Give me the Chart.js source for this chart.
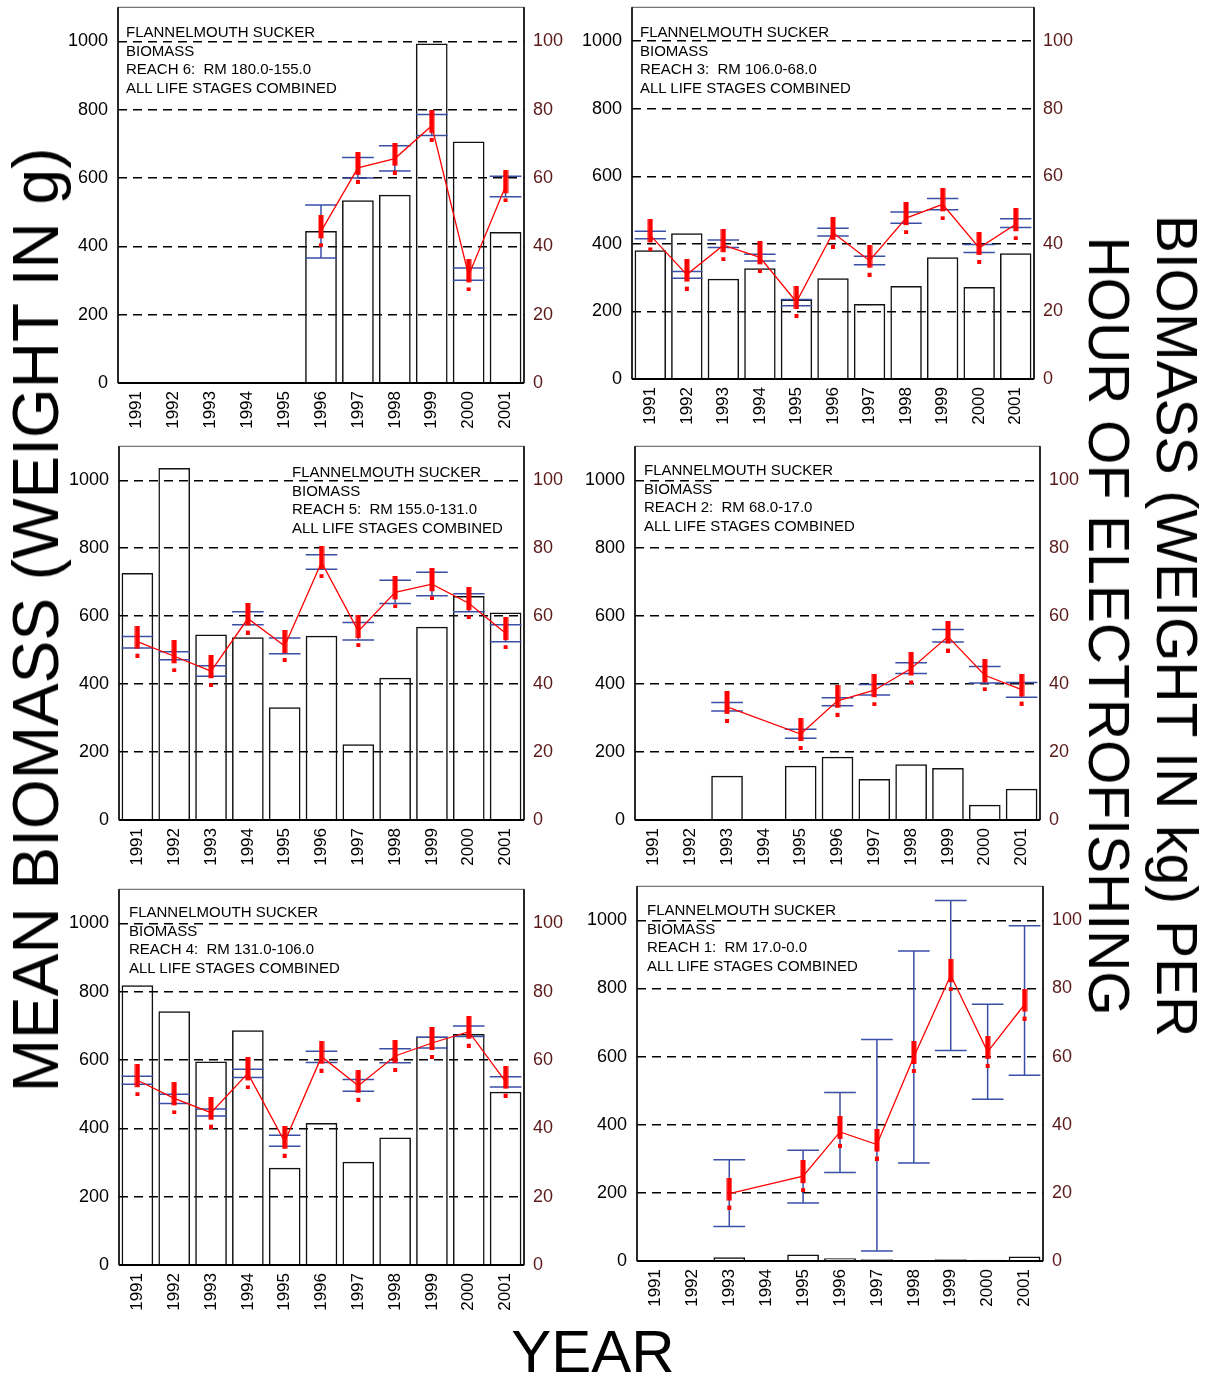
<!DOCTYPE html>
<html>
<head>
<meta charset="utf-8">
<script src="https://cdn.jsdelivr.net/npm/chart.js@4.4.1/dist/chart.umd.min.js"></script>
<style>
  body { margin: 0; background: #fff; }
  #page { position: relative; width: 1209px; height: 1379px; overflow: hidden; font-family: "Liberation Sans", Arial, sans-serif; }
  #page canvas { position: absolute; }
  .note { position: absolute; font-size: 15px; line-height: 18.7px; white-space: pre; color: #000; z-index: 2; }
  .big { position: absolute; white-space: nowrap; color: #000; z-index: 2; transform: translate(-50%, -50%) rotate(-90deg); }
</style>
</head>
<body>
<div id="page">
  <div class="big" style="left:36px; top:620px; font-size:64px; line-height:64px;">MEAN BIOMASS (WEIGHT IN g)</div>
  <div class="big" style="left:1143px; top:626px; font-size:57px; line-height:68px; text-align:center; transform: translate(-50%, -50%) rotate(90deg);">BIOMASS (WEIGHT IN kg) PER<br>HOUR OF ELECTROFISHING</div>
  <div class="big" style="left:593px; top:1352px; font-size:60px; line-height:60px; transform: translate(-50%, -50%);">YEAR</div>
</div>
<script>
// Years on the x axis
const years = ['1991', '1992', '1993', '1994', '1995', '1996', '1997', '1998', '1999', '2000', '2001'];

// Reach 6: mean biomass (g) bars, kg per hour of electrofishing with +/- range
const bars6 = [null, null, null, null, null, 445, 535, 551, 994, 707, 442];
const cpue6 = [null, null, null, null, null, 44.4, 63.0, 65.7, 75.3, 31.5, 57.6];
const hi6 = [null, null, null, null, null, 52.1, 66.0, 69.5, 78.6, 33.7, 60.5];
const lo6 = [null, null, null, null, null, 36.6, 60.0, 62.1, 72.5, 30.1, 54.5];

// Reach 3
const bars3 = [381, 431, 297, 328, 235, 298, 222, 275, 360, 272, 372];
const cpue3 = [42.5, 30.9, 39.6, 36.0, 22.8, 43.3, 35.0, 47.6, 51.7, 38.8, 45.8];
const hi3 = [43.7, 31.8, 41.1, 36.9, 23.5, 44.6, 36.3, 49.4, 53.4, 39.8, 47.4];
const lo3 = [41.5, 29.8, 38.9, 34.9, 21.7, 42.3, 33.8, 46.1, 50.1, 37.4, 44.8];

// Reach 5
const bars5 = [727, 1036, 546, 538, 332, 542, 223, 419, 569, 659, 611];
const cpue5 = [52.5, 48.2, 43.8, 59.3, 51.2, 75.9, 55.6, 67.0, 69.4, 63.8, 55.0];
const hi5 = [54.0, 49.5, 45.4, 61.3, 53.6, 78.1, 58.1, 70.6, 72.9, 66.6, 57.5];
const lo5 = [50.6, 47.2, 42.3, 57.5, 48.9, 73.8, 53.0, 63.7, 66.0, 61.3, 52.5];

// Reach 2
const bars2 = [null, null, 130, null, 160, 186, 121, 164, 153, 45, 92];
const cpue2 = [null, null, 33.3, null, 25.3, 35.1, 38.2, 44.6, 54.0, 42.6, 38.4];
const hi2 = [null, null, 34.6, null, 26.7, 36.0, 39.9, 46.3, 56.1, 45.2, 40.5];
const lo2 = [null, null, 32.1, null, 24.1, 33.6, 36.8, 43.1, 52.4, 40.3, 36.1];

// Reach 4
const bars4 = [819, 743, 596, 687, 285, 416, 302, 373, 669, 676, 507];
const cpue4 = [54.1, 48.8, 44.6, 56.1, 36.1, 61.0, 52.5, 61.2, 65.0, 68.3, 53.7];
const hi4 = [55.3, 50.0, 45.7, 57.3, 38.0, 62.6, 54.3, 63.3, 66.7, 70.0, 55.1];
const lo4 = [52.9, 47.3, 43.6, 54.9, 34.8, 59.3, 50.9, 59.2, 63.5, 66.9, 52.1];

// Reach 1
const bars1 = [null, null, 11, null, 19, 8, 5, 2, 5, 4, 13];
const cpue1 = [null, null, 19.8, null, 24.9, 37.9, 34.2, 59.9, 83.9, 61.4, 75.3];
const hi1 = [null, null, 29.7, null, 32.5, 49.5, 65.0, 91.0, 105.8, 75.4, 98.4];
const lo1 = [null, null, 10.1, null, 17.0, 26.0, 2.9, 28.8, 61.8, 47.5, 54.5];

// Left axis (g) and right axis (kg/hr) ticks
const gTicks = [0, 200, 400, 600, 800, 1000];
const kgTicks = [0, 20, 40, 60, 80, 100];

// Panel notes
const notes6 = ['FLANNELMOUTH SUCKER', 'BIOMASS', 'REACH 6:  RM 180.0-155.0', 'ALL LIFE STAGES COMBINED'];
const notes3 = ['FLANNELMOUTH SUCKER', 'BIOMASS', 'REACH 3:  RM 106.0-68.0', 'ALL LIFE STAGES COMBINED'];
const notes5 = ['FLANNELMOUTH SUCKER', 'BIOMASS', 'REACH 5:  RM 155.0-131.0', 'ALL LIFE STAGES COMBINED'];
const notes2 = ['FLANNELMOUTH SUCKER', 'BIOMASS', 'REACH 2:  RM 68.0-17.0', 'ALL LIFE STAGES COMBINED'];
const notes4 = ['FLANNELMOUTH SUCKER', 'BIOMASS', 'REACH 4:  RM 131.0-106.0', 'ALL LIFE STAGES COMBINED'];
const notes1 = ['FLANNELMOUTH SUCKER', 'BIOMASS', 'REACH 1:  RM 17.0-0.0', 'ALL LIFE STAGES COMBINED'];

// layout: plot box of each panel (l, r, t, b) and where its note sits
const panels = [
  { l: 118, r: 524, t: 7, b: 383, nx: 126, ny: 23, bars: bars6, cpue: cpue6, hi: hi6, lo: lo6, notes: notes6 },
  { l: 632, r: 1034, t: 7, b: 379, nx: 640, ny: 23, bars: bars3, cpue: cpue3, hi: hi3, lo: lo3, notes: notes3 },
  { l: 119, r: 524, t: 446, b: 820, nx: 292, ny: 463, bars: bars5, cpue: cpue5, hi: hi5, lo: lo5, notes: notes5 },
  { l: 635, r: 1040, t: 446, b: 820, nx: 644, ny: 461, bars: bars2, cpue: cpue2, hi: hi2, lo: lo2, notes: notes2 },
  { l: 119, r: 524, t: 889, b: 1265, nx: 129, ny: 903, bars: bars4, cpue: cpue4, hi: hi4, lo: lo4, notes: notes4 },
  { l: 637, r: 1043, t: 886, b: 1261, nx: 647, ny: 901, bars: bars1, cpue: cpue1, hi: hi1, lo: lo1, notes: notes1 }
];

const FONT = '"Liberation Sans", Arial, sans-serif';
const LEFT_W = 70, RIGHT_W = 45, PAD_TOP = 5, X_H = 60;
const BAR_PCT = 0.86;
const page = document.getElementById('page');

// red "!" marker used for the kg/hr points
const bang = document.createElement('canvas');
bang.width = 6;
bang.height = 32;
const bctx = bang.getContext('2d');
bctx.fillStyle = '#ff0000';
bctx.fillRect(0.5, 0, 5, 23);
bctx.fillRect(1, 28, 4, 4);

// fixed axis sizes, no extra padding for labels
function fixSize(w, h) {
  return s => {
    if (w != null) s.width = w;
    if (h != null) s.height = h;
    s.paddingTop = 0;
    s.paddingBottom = 0;
    s.paddingLeft = 0;
    s.paddingRight = 0;
  };
}

// plot frame + thick x axis
const frame = {
  id: 'frame',
  beforeDatasetsDraw(chart) {
    const { ctx, chartArea: a } = chart;
    ctx.save();
    ctx.strokeStyle = '#555';
    ctx.lineWidth = 1;
    ctx.strokeRect(a.left, a.top, a.right - a.left, a.bottom - a.top);
    ctx.strokeStyle = '#000';
    ctx.lineWidth = 1.5;
    ctx.beginPath();
    ctx.moveTo(a.left, a.top);
    ctx.lineTo(a.left, a.bottom);
    ctx.moveTo(a.right, a.top);
    ctx.lineTo(a.right, a.bottom);
    ctx.stroke();
    ctx.lineWidth = 2;
    ctx.beginPath();
    ctx.moveTo(a.left, a.bottom);
    ctx.lineTo(a.right, a.bottom);
    ctx.stroke();
    ctx.restore();
  }
};

// blue error bars, drawn after the bars and before the red line
const errorBars = {
  id: 'errorBars',
  afterDatasetDraw(chart, args) {
    if (args.index !== 0) return;
    const ds = chart.data.datasets[1];
    const x = chart.scales.x, y1 = chart.scales.y1;
    const half = x.width / years.length * BAR_PCT / 2;
    const ctx = chart.ctx;
    ctx.save();
    ctx.strokeStyle = '#3a4fa6';
    ctx.lineWidth = 1.5;
    ds.hi.forEach((hi, i) => {
      if (hi == null) return;
      const cx = x.getPixelForValue(i);
      const yh = y1.getPixelForValue(hi);
      const yl = y1.getPixelForValue(ds.lo[i]);
      ctx.beginPath();
      ctx.moveTo(cx, yh); ctx.lineTo(cx, yl);
      ctx.moveTo(cx - half, yh); ctx.lineTo(cx + half, yh);
      ctx.moveTo(cx - half, yl); ctx.lineTo(cx + half, yl);
      ctx.stroke();
    });
    ctx.restore();
  }
};

panels.forEach(p => {
  const cv = document.createElement('canvas');
  cv.width = (p.r - p.l) + LEFT_W + RIGHT_W;
  cv.height = (p.b - p.t) + PAD_TOP + X_H;
  cv.style.left = (p.l - LEFT_W) + 'px';
  cv.style.top = (p.t - PAD_TOP) + 'px';
  page.appendChild(cv);

  const note = document.createElement('div');
  note.className = 'note';
  note.style.left = p.nx + 'px';
  note.style.top = p.ny + 'px';
  note.textContent = p.notes.join('\n');
  page.appendChild(note);

  new Chart(cv, {
    type: 'bar',
    data: {
      labels: years,
      datasets: [
        {
          type: 'bar', data: p.bars, yAxisID: 'y', order: 2,
          backgroundColor: 'rgba(0,0,0,0)', borderColor: '#111', borderWidth: 1.5,
          categoryPercentage: 1, barPercentage: BAR_PCT
        },
        {
          type: 'line', data: p.cpue, yAxisID: 'y1', order: 1, hi: p.hi, lo: p.lo,
          borderColor: '#ff0000', borderWidth: 1.3, spanGaps: true,
          pointStyle: bang, pointRadius: 3, tension: 0
        }
      ]
    },
    options: {
      responsive: false,
      maintainAspectRatio: false,
      devicePixelRatio: 1,
      animation: false,
      events: [],
      layout: { padding: { top: PAD_TOP, left: 0, right: 0, bottom: 0 } },
      plugins: { legend: { display: false }, tooltip: { enabled: false } },
      scales: {
        x: {
          offset: true,
          grid: { display: false, drawTicks: false },
          border: { display: false },
          ticks: { minRotation: 90, maxRotation: 90, autoSkip: false, padding: 8, color: '#000', font: { size: 17, family: FONT } },
          afterFit: fixSize(null, X_H)
        },
        y: {
          position: 'left', min: 0, max: 1100,
          afterBuildTicks: s => { s.ticks = gTicks.map(v => ({ value: v })); },
          ticks: { padding: 10, color: '#000', font: { size: 18, family: FONT }, callback: v => String(v) },
          grid: { drawTicks: false, lineWidth: 1.5, color: c => (c.tick && c.tick.value > 0 ? '#000' : 'rgba(0,0,0,0)') },
          border: { display: false, dash: [9, 6] },
          afterFit: fixSize(LEFT_W, null)
        },
        y1: {
          position: 'right', min: 0, max: 110,
          afterBuildTicks: s => { s.ticks = kgTicks.map(v => ({ value: v })); },
          ticks: { padding: 9, color: '#5a1a1a', font: { size: 18, family: FONT }, callback: v => String(v) },
          grid: { display: false, drawTicks: false },
          border: { display: false },
          afterFit: fixSize(RIGHT_W, null)
        }
      }
    },
    plugins: [frame, errorBars]
  });
});
</script>
</body>
</html>
